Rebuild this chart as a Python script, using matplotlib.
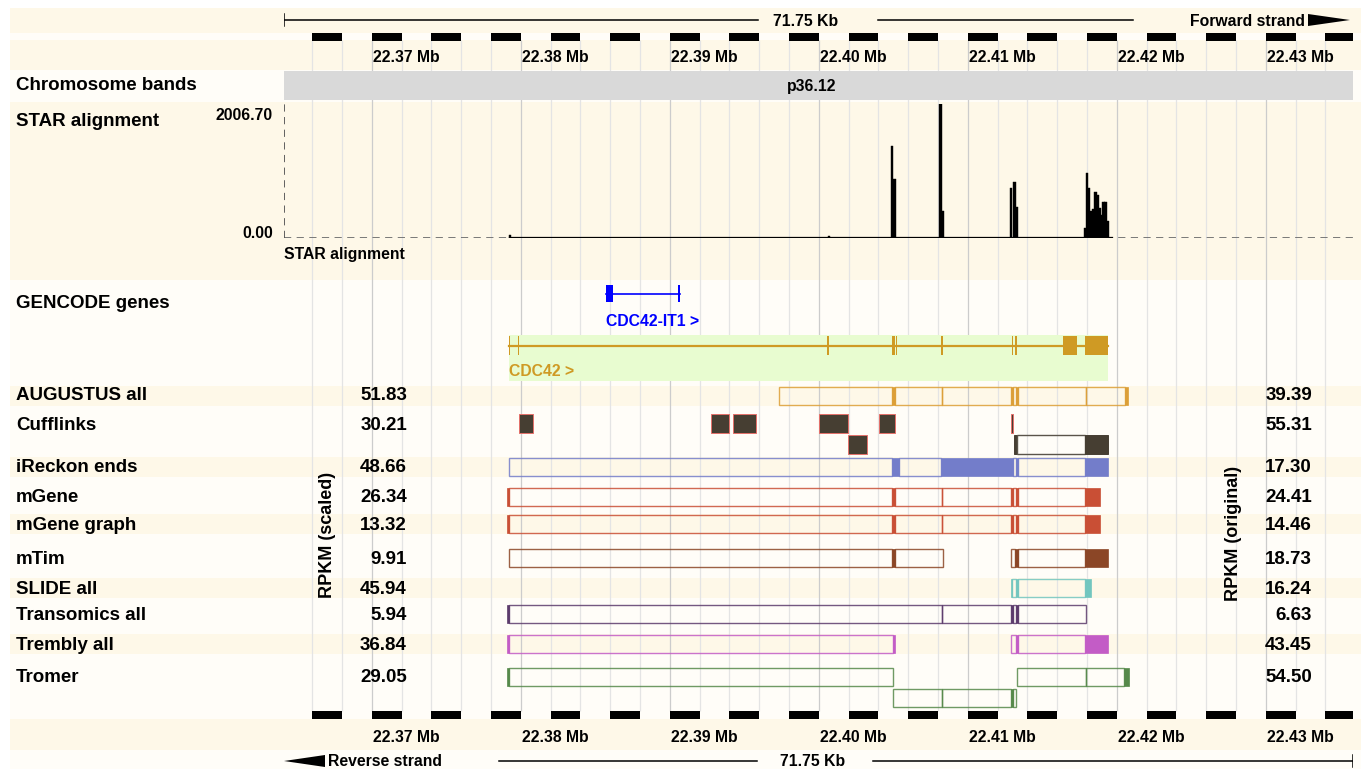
import matplotlib
matplotlib.use("Agg")
import matplotlib.pyplot as plt
from matplotlib.patches import Rectangle, Polygon
import numpy as np

plt.rcParams["font.family"] = ["Liberation Sans", "DejaVu Sans"]
plt.rcParams["font.weight"] = "bold"

W, H = 1361, 769
TRACK_L, TRACK_R = 284, 1353          # pixel extent of the track panel

# ---------------------------------------------------------------
# Region and scale
# ---------------------------------------------------------------
START = 22.36410                      # Mb
SPAN_KB = 71.75
END = START + SPAN_KB / 1000

MAJOR_TICKS = [22.37, 22.38, 22.39, 22.40, 22.41, 22.42, 22.43]
TICK_LABELS = ["22.37 Mb", "22.38 Mb", "22.39 Mb", "22.40 Mb",
               "22.41 Mb", "22.42 Mb", "22.43 Mb"]
MINOR_STEP = 0.002
BAND_NAME = "p36.12"

# ---------------------------------------------------------------
# STAR alignment coverage
# ---------------------------------------------------------------
STAR_MAX = 2006.70
star_pos = [22.40491, 22.40507, 22.40816, 22.40830, 22.41290, 22.41313,
            22.41327, 22.41786, 22.41799, 22.41814, 22.41828, 22.41842,
            22.41856, 22.41870, 22.41883, 22.41897, 22.41910, 22.41924,
            22.41937, 22.37929, 22.40070]
star_val = [1378, 884, 2006.70, 404, 749, 839,
            464, 150, 973, 749, 404, 434,
            689, 644, 449, 344, 539, 539,
            255, 40, 25]
STAR_BIN = 0.000155
star_low_span = (22.37918, 22.41970)
star_low_val = 8

# ---------------------------------------------------------------
# GENCODE genes
# ---------------------------------------------------------------
it1_span = (22.38568, 22.39068)
it1_exons = [(22.38568, 22.38618), (22.39055, 22.39068)]
cdc42_span = (22.37918, 22.41941)
cdc42_exons = [(22.37917, 22.37927), (22.37978, 22.37988), (22.40055, 22.40065),
               (22.40494, 22.40508), (22.40516, 22.40526), (22.40822, 22.40832),
               (22.41293, 22.41303), (22.41318, 22.41328), (22.41641, 22.41732),
               (22.41788, 22.41941)]

# ---------------------------------------------------------------
# Transcript model tracks: (row, start, end, kind) kind o=outline f=filled
# ---------------------------------------------------------------
TRACK_NAMES = ["AUGUSTUS all", "Cufflinks", "iReckon ends", "mGene", "mGene graph",
               "mTim", "SLIDE all", "Transomics all", "Trembly all", "Tromer"]
RPKM_SCALED = [51.83, 30.21, 48.66, 26.34, 13.32, 9.91, 45.94, 5.94, 36.84, 29.05]
RPKM_ORIGINAL = [39.39, 55.31, 17.30, 24.41, 14.46, 18.73, 16.24, 6.63, 43.45, 54.50]
TRACK_COLORS = ["#dc9f37", "#463e32", "#737dca", "#c94f35", "#c94f35",
                "#8b4626", "#72c6bf", "#5c3b6c", "#c35cc6", "#56894a"]

augustus = [(0, 22.39734, 22.40494, "o"), (0, 22.40494, 22.40508, "f"),
            (0, 22.40508, 22.40825, "o"), (0, 22.40825, 22.41292, "o"),
            (0, 22.41292, 22.41306, "f"), (0, 22.41306, 22.41320, "o"),
            (0, 22.41320, 22.41334, "f"), (0, 22.41334, 22.41795, "o"),
            (0, 22.41795, 22.42054, "o"), (0, 22.42054, 22.42078, "f")]
cufflinks = [(0, 22.37987, 22.38078, "f"), (0, 22.39276, 22.39400, "f"),
             (0, 22.39424, 22.39578, "f"), (0, 22.39999, 22.40197, "f"),
             (0, 22.40401, 22.40511, "f"), (0, 22.41287, 22.41303, "f"),
             (1, 22.40197, 22.40322, "f"), (1, 22.41312, 22.41330, "f"),
             (1, 22.41330, 22.41789, "o"), (1, 22.41789, 22.41941, "f")]
ireckon = [(0, 22.37918, 22.40494, "o"), (0, 22.40494, 22.40535, "f"),
           (0, 22.40535, 22.40820, "o"), (0, 22.40820, 22.41306, "f"),
           (0, 22.41306, 22.41323, "o"), (0, 22.41323, 22.41334, "f"),
           (0, 22.41334, 22.41789, "o"), (0, 22.41789, 22.41941, "f")]
mgene = [(0, 22.37910, 22.37920, "f"), (0, 22.37920, 22.40494, "o"),
         (0, 22.40494, 22.40508, "f"), (0, 22.40508, 22.40826, "o"),
         (0, 22.40826, 22.41292, "o"), (0, 22.41292, 22.41306, "f"),
         (0, 22.41306, 22.41320, "o"), (0, 22.41320, 22.41334, "f"),
         (0, 22.41334, 22.41789, "o"), (0, 22.41789, 22.41888, "f")]
mgene_graph = list(mgene)
mtim = [(0, 22.37918, 22.40494, "o"), (0, 22.40494, 22.40508, "f"),
        (0, 22.40508, 22.40832, "o"), (0, 22.41292, 22.41317, "o"),
        (0, 22.41317, 22.41334, "f"), (0, 22.41334, 22.41789, "o"),
        (0, 22.41789, 22.41941, "f")]
slide = [(0, 22.41292, 22.41299, "f"), (0, 22.41299, 22.41320, "o"),
         (0, 22.41320, 22.41334, "f"), (0, 22.41334, 22.41789, "o"),
         (0, 22.41789, 22.41824, "f")]
transomics = [(0, 22.37907, 22.37918, "f"), (0, 22.37918, 22.40826, "o"),
              (0, 22.40826, 22.41292, "o"), (0, 22.41292, 22.41303, "f"),
              (0, 22.41303, 22.41320, "o"), (0, 22.41320, 22.41334, "f"),
              (0, 22.41334, 22.41795, "o")]
trembly = [(0, 22.37907, 22.37918, "f"), (0, 22.37918, 22.40497, "o"),
           (0, 22.40497, 22.40508, "f"), (0, 22.41292, 22.41320, "o"),
           (0, 22.41320, 22.41334, "f"), (0, 22.41334, 22.41789, "o"),
           (0, 22.41789, 22.41941, "f")]
tromer = [(0, 22.37907, 22.37918, "f"), (0, 22.37918, 22.40497, "o"),
          (0, 22.41327, 22.41795, "o"), (0, 22.41795, 22.42051, "o"),
          (0, 22.42051, 22.42081, "f"),
          (1, 22.40497, 22.40826, "o"), (1, 22.40826, 22.41292, "o"),
          (1, 22.41292, 22.41306, "f"), (1, 22.41306, 22.41320, "o")]
TRACK_SEGMENTS = [augustus, cufflinks, ireckon, mgene, mgene_graph,
                  mtim, slide, transomics, trembly, tromer]

# layout: label y and box top of each row (pixels)
LABEL_Y = [396, 425, 468, 498, 525, 559, 589, 615, 645, 678]
ROW_TOPS = [[387], [414, 435], [458], [488], [515], [549], [579], [605], [635], [668, 689]]
BOX_H = 18

CREAM = "#fef8e8"
PALE = "#fffdf8"
BIG = 13.5
SMALL = 11.3


def px2mb(px):
    return START + (px - TRACK_L) / (TRACK_R - TRACK_L) * (END - START)


fig = plt.figure(figsize=(W / 100, H / 100), dpi=100)

# background stripes, in pixel units
bg = fig.add_axes([0, 0, 1, 1], zorder=0)
bg.set_xlim(0, W)
bg.set_ylim(H, 0)
bg.axis("off")
bg.add_patch(Rectangle((10, 8), W - 10, H - 8, color=PALE, lw=0))
bands = [(8, 33), (40, 70), (102, 280), (719, 750)]
bands += [(ROW_TOPS[i][0] - 1, ROW_TOPS[i][0] + BOX_H + 1) for i in (0, 2, 4, 6, 8)]
for y0, y1 in bands:
    bg.add_patch(Rectangle((10, y0), W - 10, y1 - y0, color=CREAM, lw=0))

# track panel: x in Mb, y in pixels
ax = fig.add_axes([TRACK_L / W, 0, (TRACK_R - TRACK_L) / W, 1], zorder=1)
ax.set_xlim(START, END)
ax.set_ylim(H, 0)
ax.axis("off")
ax.patch.set_alpha(0)

grid = np.arange(22.366, END, MINOR_STEP)
is_major = [abs(g * 100 - round(g * 100)) < 1e-6 for g in grid]
ax.vlines([g for g, m in zip(grid, is_major) if not m], 40, 711, colors="#e4e4e4", lw=0.9, zorder=1)
ax.vlines([g for g, m in zip(grid, is_major) if m], 40, 711, colors="#cccccc", lw=0.9, zorder=1)

# alternating black/white tick bars
for g in grid[::2]:
    for y0 in (33, 711):
        ax.add_patch(Rectangle((g, y0), min(MINOR_STEP, END - g), 7.5,
                               color="black", lw=0, zorder=2))
for t, lab in zip(MAJOR_TICKS, TICK_LABELS):
    ax.text(t + 0.00008, 58, lab, fontsize=SMALL, va="center", ha="left")
    ax.text(t + 0.00008, 737, lab, fontsize=SMALL, va="center", ha="left")

# scale bars with span label
span_txt = f"{SPAN_KB:.2f} Kb"
ax.plot([START, px2mb(758)], [20, 20], color="black", lw=1.1)
ax.plot([px2mb(878), px2mb(1133)], [20, 20], color="black", lw=1.1)
ax.plot([START, START], [14, 26], color="black", lw=1.1)
ax.text(px2mb(806), 21, span_txt, fontsize=SMALL, va="center", ha="center")
ax.text(px2mb(1305), 21, "Forward strand", fontsize=SMALL, va="center", ha="right")
ax.add_patch(Polygon([(px2mb(1308), 14), (px2mb(1308), 26), (px2mb(1350), 20)],
                     closed=True, color="black", lw=0))

ax.plot([px2mb(499), px2mb(757)], [761, 761], color="black", lw=1.1)
ax.plot([px2mb(873), END], [761, 761], color="black", lw=1.1)
ax.plot([END, END], [755, 767], color="black", lw=1.1)
ax.text(px2mb(813), 762, span_txt, fontsize=SMALL, va="center", ha="center")
ax.text(px2mb(328), 762, "Reverse strand", fontsize=SMALL, va="center", ha="left")
ax.add_patch(Polygon([(px2mb(325), 755), (px2mb(325), 767), (px2mb(284), 761)],
                     closed=True, color="black", lw=0))

# chromosome band
ax.add_patch(Rectangle((START, 71), END - START, 29, color="#d9d9d9", lw=0, zorder=3))
ax.text(px2mb(812), 86, BAND_NAME, fontsize=SMALL, va="center", ha="center", zorder=4)
ax.text(START + 0.00003, 255, "STAR alignment", fontsize=SMALL, va="center", ha="left")

# GENCODE genes
ax.plot(it1_span, [294, 294], color="#0000ff", lw=1.2, zorder=4)
for s, e in it1_exons:
    ax.add_patch(Rectangle((s, 285), e - s, 17, color="#0000ff", lw=0, zorder=4))
ax.text(it1_span[0], 321, "CDC42-IT1 >", color="#0000ff", fontsize=SMALL,
        va="center", ha="left")
ax.add_patch(Rectangle((cdc42_span[0], 335), cdc42_span[1] - cdc42_span[0], 46,
                       color="#e8fcd0", lw=0, zorder=2))
ax.plot(cdc42_span, [345.5, 345.5], color="#cf9a24", lw=1.6, zorder=4)
for s, e in cdc42_exons:
    ax.add_patch(Rectangle((s, 336), e - s, 19, color="#cf9a24", lw=0, zorder=4))
ax.text(cdc42_span[0], 371, "CDC42 >", color="#cf9a24", fontsize=SMALL,
        va="center", ha="left", zorder=4)

# transcript model tracks
for i, segs in enumerate(TRACK_SEGMENTS):
    col = TRACK_COLORS[i]
    for row, s, e, kind in segs:
        y0 = ROW_TOPS[i][row]
        if i == 1:
            if kind == "f":
                ax.add_patch(Rectangle((s, y0), e - s, BOX_H + 1, facecolor=col,
                                       edgecolor="#e5706a" if row == 0 or s < 22.41 else col,
                                       lw=0.7, zorder=5))
            else:
                ax.add_patch(Rectangle((s, y0), e - s, BOX_H + 1, facecolor="none",
                                       edgecolor="#5a544a", lw=1.0, zorder=5))
        elif kind == "f":
            ax.add_patch(Rectangle((s, y0), e - s, BOX_H, facecolor=col,
                                   edgecolor=col, lw=0.5, zorder=6))
        else:
            ax.add_patch(Rectangle((s, y0), e - s, BOX_H, facecolor="none",
                                   edgecolor=col, lw=1.0, alpha=0.85, zorder=5))

# STAR alignment coverage panel
ax_star = fig.add_axes([TRACK_L / W, 1 - 238 / H, (TRACK_R - TRACK_L) / W, 134 / H], zorder=2)
ax_star.set_xlim(START, END)
ax_star.set_ylim(0, STAR_MAX)
ax_star.axis("off")
ax_star.patch.set_alpha(0)
ax_star.axhline(0, color="#6f6f6f", lw=1.3, ls=(0, (4, 3)), zorder=1)
ax_star.axvline(START, color="#555555", lw=1.3, ls=(0, (4, 3)), zorder=1)
ax_star.plot(star_low_span, [star_low_val, star_low_val], color="black", lw=0.9, zorder=2)
ax_star.bar(star_pos, star_val, width=STAR_BIN, color="black",
            edgecolor="black", lw=0.3, zorder=3)

# track names and RPKM values, drawn on top of the grid
lab = fig.add_axes([0, 0, 1, 1], zorder=3)
lab.set_xlim(0, W)
lab.set_ylim(H, 0)
lab.axis("off")
lab.patch.set_alpha(0)
for name, y in [("Chromosome bands", 86), ("STAR alignment", 122), ("GENCODE genes", 303)]:
    lab.text(16, y, name, fontsize=BIG, va="center", ha="left")
for name, y, vs, vo in zip(TRACK_NAMES, LABEL_Y, RPKM_SCALED, RPKM_ORIGINAL):
    lab.text(16, y, name, fontsize=BIG, va="center", ha="left")
    lab.text(407, y, f"{vs:.2f}", fontsize=BIG, va="center", ha="right")
    lab.text(1312, y, f"{vo:.2f}", fontsize=BIG, va="center", ha="right")
lab.text(273, 115, f"{STAR_MAX:.2f}", fontsize=SMALL, va="center", ha="right")
lab.text(273, 234, f"{0:.2f}", fontsize=SMALL, va="center", ha="right")
lab.text(328, 535, "RPKM (scaled)", fontsize=13, rotation=90, va="center", ha="center")
lab.text(1234, 533, "RPKM (original)", fontsize=13, rotation=90, va="center", ha="center")

fig.savefig("out.png", dpi=100)
